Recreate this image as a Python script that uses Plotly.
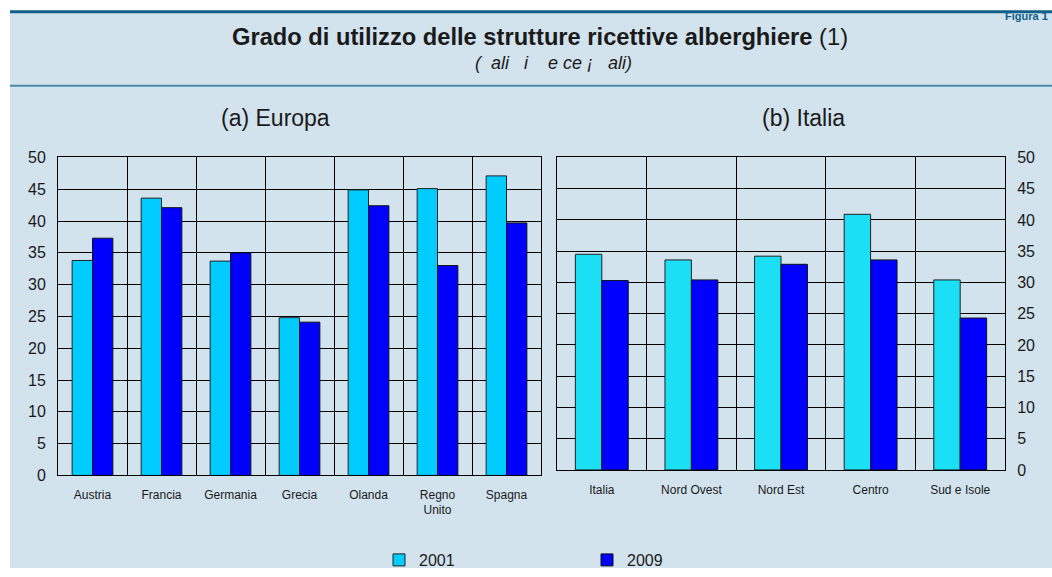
import plotly.graph_objects as go

# ---- data ----
europa_cats = ["Austria", "Francia", "Germania", "Grecia", "Olanda", "Regno<br>Unito", "Spagna"]
europa_2001 = [33.8, 43.6, 33.7, 24.8, 44.9, 45.1, 47.1]
europa_2009 = [37.3, 42.1, 35.0, 24.1, 42.4, 33.0, 39.7]

italia_cats = ["Italia", "Nord Ovest", "Nord Est", "Centro", "Sud e Isole"]
italia_2001 = [34.5, 33.6, 34.2, 40.9, 30.4]
italia_2009 = [30.3, 30.4, 32.9, 33.6, 24.3]

y_ticks = [0, 5, 10, 15, 20, 25, 30, 35, 40, 45, 50]
series_names = ["2001", "2009"]

# ---- styles ----
W, H = 1052, 577
BG = "#D2E3EE"
C2001_EU = "#00CCFF"
C2001_IT = "#1BE0F5"
C2009 = "#0000FF"
FONT = "Liberation Sans, Arial, sans-serif"
TXT = "#1a1a1a"

# vertical correction observed for the capture (picture y = 0.969*fig y + 6.8)
SY, OY = 0.969, 6.8

def px_x(p):
    return p / W

def px_y(p):
    q = (p - OY) / SY
    return 1 - q / H

fig = go.Figure()

fig.add_trace(go.Bar(x=europa_cats, y=europa_2001, name=series_names[0], marker=dict(color=C2001_EU, line=dict(color="#222", width=1)),
                     xaxis="x", yaxis="y", legendgroup="a", showlegend=True))
fig.add_trace(go.Bar(x=europa_cats, y=europa_2009, name=series_names[1], marker=dict(color=C2009, line=dict(color="#111", width=1)),
                     xaxis="x", yaxis="y", legendgroup="b", showlegend=True))
fig.add_trace(go.Bar(x=italia_cats, y=italia_2001, name=series_names[0], marker=dict(color=C2001_IT, line=dict(color="#222", width=1)),
                     xaxis="x2", yaxis="y2", legendgroup="a", showlegend=False))
fig.add_trace(go.Bar(x=italia_cats, y=italia_2009, name=series_names[1], marker=dict(color=C2009, line=dict(color="#111", width=1)),
                     xaxis="x2", yaxis="y2", legendgroup="b", showlegend=False))

xcommon = dict(type="category", tickson="boundaries", showgrid=True, gridcolor="#000", gridwidth=1,
               showline=True, linecolor="#000", linewidth=1, mirror=True, ticks="",
               tickfont=dict(family=FONT, size=12, color=TXT), fixedrange=True)
ycommon = dict(range=[0, 50], tickvals=y_ticks, showgrid=True, gridcolor="#000", gridwidth=1,
               showline=True, linecolor="#000", linewidth=1, mirror=True, ticks="", zeroline=False,
               tickfont=dict(family=FONT, size=16, color=TXT), ticklabelstandoff=8, fixedrange=True)

fig.update_layout(
    width=W, height=H,
    margin=dict(l=0, r=0, t=0, b=0),
    paper_bgcolor="white",
    plot_bgcolor="white",
    barmode="group", bargap=0.41, bargroupgap=0,
    xaxis=dict(domain=[px_x(58), px_x(541)], anchor="y", ticklabelstandoff=8, **xcommon),
    yaxis=dict(domain=[px_y(473.5), px_y(156)], anchor="x", side="left", **ycommon),
    xaxis2=dict(domain=[px_x(557), px_x(1005)], anchor="y2", ticklabelstandoff=9, **xcommon),
    yaxis2=dict(domain=[px_y(468), px_y(156)], anchor="x2", side="right", **ycommon),
    showlegend=True,
    legend=dict(orientation="h", x=px_x(379), y=px_y(558), xanchor="left", yanchor="middle",
                entrywidth=163, entrywidthmode="pixels", itemwidth=30, bgcolor="rgba(0,0,0,0)",
                font=dict(family=FONT, size=16, color=TXT), itemclick=False, itemdoubleclick=False,
                traceorder="normal"),
    shapes=[
        dict(type="rect", xref="paper", yref="paper", x0=px_x(10), x1=1, y0=0, y1=px_y(11),
             fillcolor=BG, line=dict(width=0), layer="below"),
        dict(type="line", xref="paper", yref="paper", x0=px_x(10), x1=1, y0=px_y(10.5), y1=px_y(10.5),
             line=dict(color="#0F5F88", width=3)),
        dict(type="line", xref="paper", yref="paper", x0=px_x(10), x1=1, y0=px_y(84.5), y1=px_y(84.5),
             line=dict(color="#4A8CAC", width=2)),
    ],
    annotations=[
        dict(text="<b>Figura 1</b>", xref="paper", yref="paper", x=px_x(1050), y=1,
             xanchor="right", yanchor="top", showarrow=False,
             font=dict(family=FONT, size=11, color="#0F5F88")),
        dict(text="<b>Grado di utilizzo delle strutture ricettive alberghiere</b> (1)", xref="paper", yref="paper",
             x=px_x(540), y=px_y(36), xanchor="center", yanchor="middle", showarrow=False,
             font=dict(family=FONT, size=23.7, color=TXT)),
        dict(text="<i>(  ali   i    e ce ¡   ali)</i>", xref="paper", yref="paper",
             x=px_x(553), y=px_y(62), xanchor="center", yanchor="middle", showarrow=False,
             font=dict(family=FONT, size=18, color=TXT)),
        dict(text="(a) Europa", xref="paper", yref="paper", x=px_x(275), y=px_y(117),
             xanchor="center", yanchor="middle", showarrow=False,
             font=dict(family=FONT, size=23, color=TXT)),
        dict(text="(b) Italia", xref="paper", yref="paper", x=px_x(803), y=px_y(117),
             xanchor="center", yanchor="middle", showarrow=False,
             font=dict(family=FONT, size=23, color=TXT)),
    ],
)

fig.write_html(
    "out.html",
    config={"displayModeBar": False},
    post_script=(
        "document.body.style.margin='0';document.body.style.padding='0';"
        "document.body.style.overflow='hidden';document.documentElement.style.overflow='hidden';"
        "var d=document.getElementById('{plot_id}');d.style.position='fixed';d.style.top='0';d.style.left='0';"
    ),
)
